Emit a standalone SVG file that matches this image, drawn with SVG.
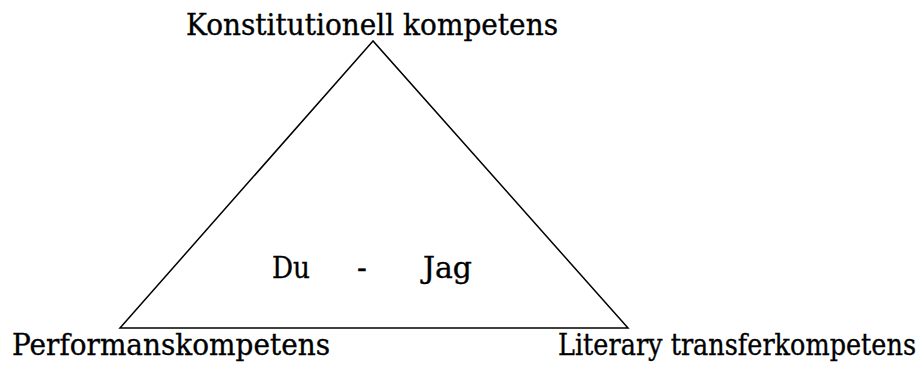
<svg xmlns="http://www.w3.org/2000/svg" width="924" height="369" viewBox="0 0 924 369">
<style>
text{font-family:"DejaVu Serif","Liberation Serif",serif;font-size:29px;fill:#000;stroke:#000;stroke-width:0.35}
.edge{fill:none;stroke:#000;stroke-width:1.5}
</style>
<rect width="924" height="369" fill="#fff"/>
<g id="connectors">
<path class="edge" d="M373,41 L120,328 L628,328 Z"/>
</g>
<g id="top"><text x="186" y="35" textLength="372" lengthAdjust="spacingAndGlyphs">Konstitutionell kompetens</text></g>
<g id="left"><text x="12" y="355" textLength="318" lengthAdjust="spacingAndGlyphs">Performanskompetens</text></g>
<g id="right"><text x="558" y="355" textLength="358" lengthAdjust="spacingAndGlyphs">Literary transferkompetens</text></g>
<g id="center">
<text x="272" y="278" textLength="38" lengthAdjust="spacingAndGlyphs">Du</text>
<text x="357" y="278">-</text>
<text x="423" y="278" textLength="49" lengthAdjust="spacingAndGlyphs">Jag</text>
</g>
</svg>
